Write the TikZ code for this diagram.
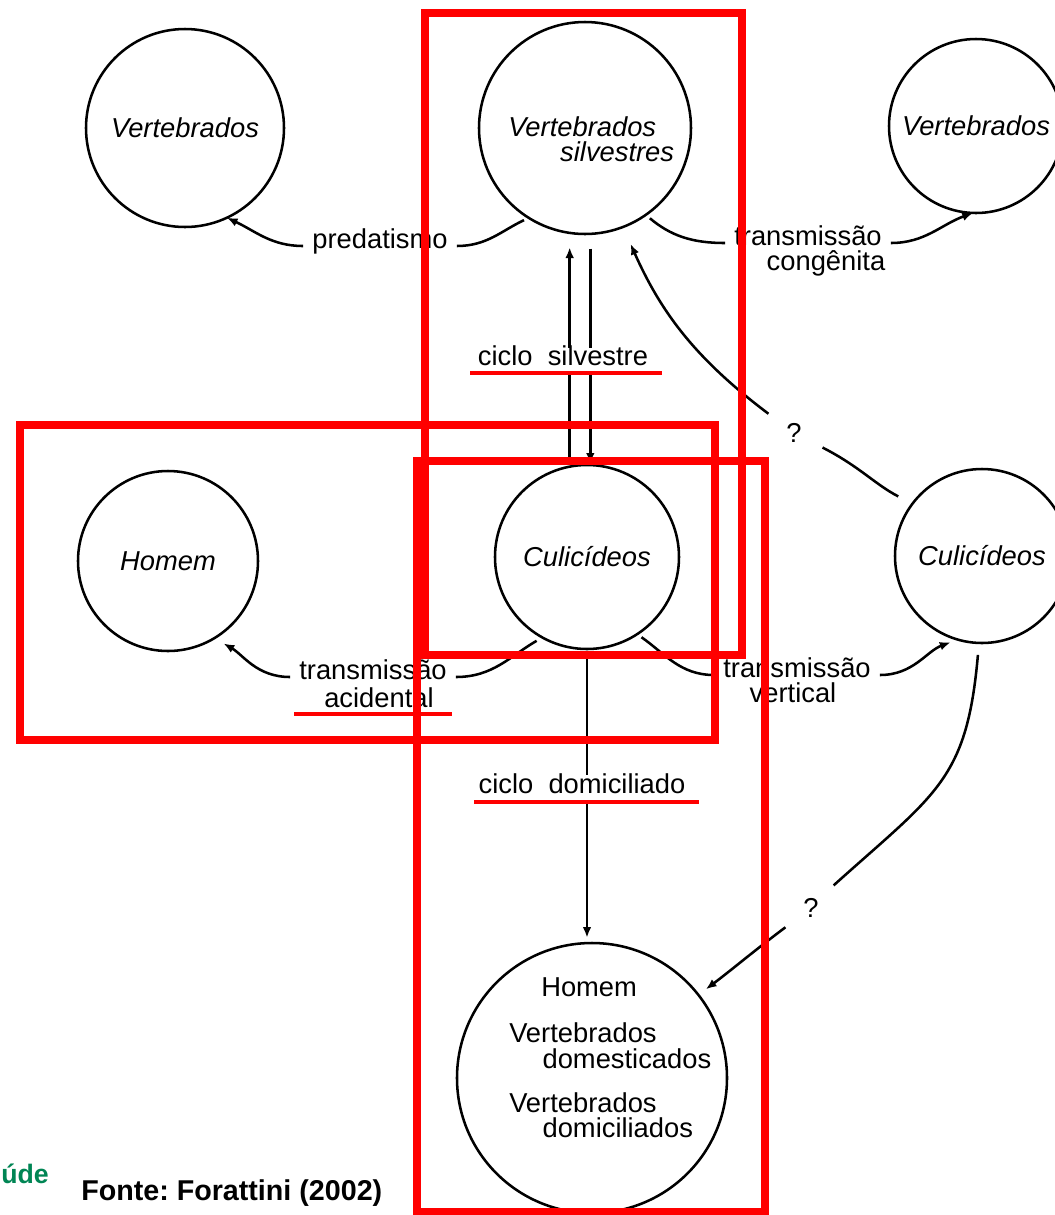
\documentclass[tikz,border=0pt]{standalone}
\usepackage{fontspec}
\setmainfont{Liberation Sans}
\usetikzlibrary{arrows.meta}
\definecolor{fontegreen}{RGB}{0,133,84}
\newcommand{\labfont}{\fontsize{20.5}{19}\selectfont}
\tikzset{every picture/.style={line width=1.9pt}}
\tikzset{
  circ/.style={draw, circle, inner sep=0pt, outer sep=0pt, align=left, font=\labfont\itshape},
  lbl/.style={inner xsep=6pt, inner ysep=0pt, text height=0.5em, text depth=0.15em, font=\labfont},
  cyc/.style={fill=white, inner xsep=4pt, inner ysep=1pt, font=\labfont},
  qmark/.style={circle, inner sep=0pt, outer sep=0pt, minimum size=48pt, font=\labfont},
  arr/.style={-{Latex[length=8pt,width=6.5pt]}},
  redbox/.style={draw=red, line width=6pt},
  redline/.style={draw=red, line width=2.5pt}
}

\begin{document}
\begin{tikzpicture}[x=0.75pt,y=0.75pt,yscale=-1,xscale=1]

\useasboundingbox (0,0) rectangle (1055,1215);

%Shape: Circle
\node[circ, minimum size=148.5pt] (vl) at (185,128) {Vertebrados};
%Shape: Circle
\node[circ, minimum size=159pt] (silv) at (585,128) {};
%Shape: Circle
\node[circ, minimum size=130.5pt] (vr) at (976,126) {Vertebrados};
%Shape: Circle
\node[circ, minimum size=135pt] (hom) at (168,561) {Homem};
%Shape: Circle
\node[circ, minimum size=138pt] (cul) at (587,557) {Culicídeos};
%Shape: Circle
\node[circ, minimum size=130.5pt] (culr) at (982,556) {Culicídeos};
%Shape: Circle
\node[circ, minimum size=202.5pt] (dom) at (592,1078) {};

% Text Node
\node[anchor=north west, inner sep=0pt, align=left, font=\labfont\itshape] (silvtxt) at (507,115) {Vertebrados\\\hspace*{1.9em}silvestres};
% Text Node
\node[anchor=north west, inner sep=0pt, align=left, font=\labfont] (domtxt) at (508,976) {\hspace*{24pt}Homem\\[16pt]Vertebrados\\\hspace*{25pt}domesticados\\[14pt]Vertebrados\\\hspace*{25pt}domiciliados};

% Text Node
\node[lbl] (pred) at (380,246) {predatismo};
% Text Node
\node[lbl] (tc1) at (808,243) {transmissão};
\node[lbl] (tc2) at (826,268) {congênita};
% Text Node
\node[lbl] (ta1) at (373,677) {transmissão};
\node[lbl] (ta2) at (379,705) {acidental};
% Text Node
\node[lbl] (tv1) at (797,675) {transmissão};
\node[lbl] (tv2) at (793,700) {vertical};
% Text Node
\node[qmark] (q1) at (794,433) {?};
\node[qmark] (q2) at (811,908) {?};

%Curve Lines
\draw[shorten <=4pt] (silv.238) to[out=155,in=0] (pred);
\draw[arr] (pred) to[out=180,in=25] (vl.295);
%Curve Lines
\draw[shorten <=4pt] (silv.305) to[out=40,in=180] (tc1);
\draw[arr] (tc1) to[out=0,in=160] (vr.268);
%Curve Lines
\draw[shorten <=5pt] (cul.241) to[out=150,in=0] (ta1);
\draw[arr, shorten >=8pt] (ta1) to[out=180,in=30] (hom.301);
%Curve Lines
\draw[shorten <=4pt] (cul.303) to[out=35,in=180] (tv1);
\draw[arr, shorten >=6pt] (tv1) to[out=0,in=160] (culr.254);
%Curve Lines
\draw[shorten <=12pt] (culr.143) to[out=-153,in=27] (q1.333);
\draw[arr, shorten >=14pt] (q1.143) to[out=-143,in=66] (silv.291);
%Curve Lines
\draw[shorten <=9pt] (culr.268) to[out=95,in=-42,looseness=1.25] (q2.45);
\draw[arr, shorten >=7pt] (q2.217) to[out=143,in=-37] (dom.38);

%Straight Lines
\draw[arr, shorten <=6pt, shorten >=10pt] ([xshift=-13pt]cul.north) -- ([xshift=-13pt]cul.north |- silv.south);
\draw[arr, shorten <=11pt, shorten >=1pt] ([xshift=4pt]silv.south) -- ([xshift=4pt]silv.south |- cul.north);
%Straight Lines
\draw[arr, shorten <=4pt, shorten >=4pt] (cul.south) -- (cul.south |- dom.north);

% Text Node
\node[cyc, anchor=base, text height=1.21em, text depth=0.37em] (cs) at (563,365) {ciclo\ \ silvestre};
% Text Node
\node[cyc, anchor=base, text height=1.25em, text depth=0.45em] (cd) at (582,793) {ciclo\ \ domiciliado};

% Text Node
\node[anchor=base west, inner sep=0pt, font=\fontsize{21.5}{25}\selectfont\bfseries] (fonte) at (80,1200) {Fonte:\ Forattini (2002)};
% Text Node
\node[anchor=base east, inner sep=0pt, text=fontegreen, font=\fontsize{20}{24}\selectfont\bfseries] (saude) at (50,1183) {úde};

%Shape: Rectangle
\draw[redbox] (425,13) rectangle (742,655);
\draw[redbox] (20,425) rectangle (715,740);
\draw[redbox] (417,461) rectangle (765,1212);
%Straight Lines
\draw[redline] (470,373) -- (662,373);
\draw[redline] (294,714) -- (452,714);
\draw[redline] (474,802) -- (699,802);

\end{tikzpicture}
\end{document}
